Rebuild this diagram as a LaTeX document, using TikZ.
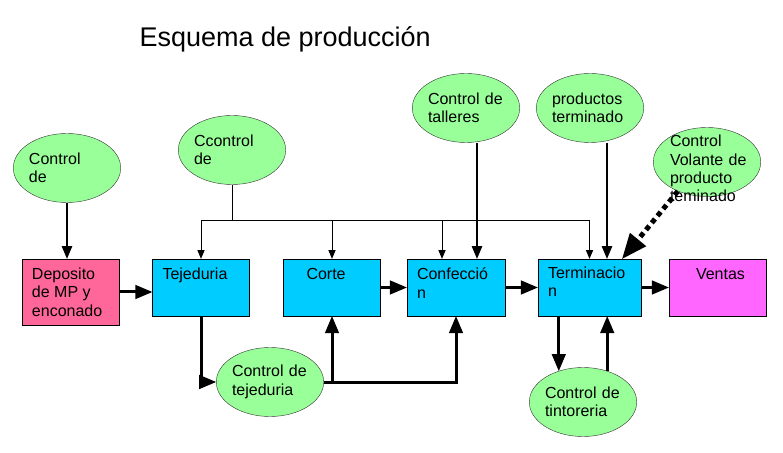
\documentclass[tikz,border=0pt]{standalone}
\usepackage{fontspec}
\setmainfont{Liberation Sans}
\usetikzlibrary{arrows, positioning, shapes.geometric}
\definecolor{verde}{RGB}{153,255,153}
\definecolor{celeste}{RGB}{0,204,255}
\definecolor{rosa}{RGB}{255,102,153}
\definecolor{fucsia}{RGB}{255,102,255}

\begin{document}
\begin{tikzpicture}[x=1bp,y=-1bp,node distance=130bp,on grid,>=triangle 45,
    font=\fontsize{16bp}{18.4bp}\selectfont]
    \tikzstyle{etapa}=[shape=rectangle,draw,fill=celeste,minimum width=97bp,minimum height=57bp,inner sep=0pt]
    \tikzstyle{texto}=[anchor=north west,inner sep=0pt,align=left]
    \tikzstyle{control}=[shape=ellipse,draw=black!80,fill=verde,minimum width=103bp,minimum height=69bp,
        inner sep=0pt,text width=76bp,align=left]
    \tikzstyle{fino}=[->,draw,line width=1bp]
    \tikzstyle{medio}=[->,draw,line width=2bp]
    \tikzstyle{grueso}=[->,draw,line width=3bp]

    \useasboundingbox (0,0) rectangle (783,453);

    \node[anchor=base west,font=\fontsize{27bp}{32bp}\selectfont] (titulo) at (136,47) {Esquema de producción};

    % etapas
    \node[etapa] (teje) at (201,287.5) {};
    \node[etapa, fill=rosa, minimum height=66bp, left=130.5bp of teje, yshift=-4.5bp] (depo) {};
    \node[etapa, right=131bp of teje] (corte) {};
    \node[etapa, minimum width=98bp, right=124bp of corte] (conf) {};
    \node[etapa, minimum width=103bp, right=133.5bp of conf] (term) {};
    \node[etapa, fill=fucsia, right=128bp of term] (ventas) {};

    \node[texto] (tdepo) at ([shift={(10bp,-9bp)}]depo.north west) {Deposito\\de MP y\\enconado};
    \node[texto] (tteje) at ([shift={(10bp,-9bp)}]teje.north west) {Tejeduria};
    \node[texto] (tcorte) at ([shift={(23bp,-9bp)}]corte.north west) {Corte};
    \node[texto] (tconf) at ([shift={(10bp,-9bp)}]conf.north west) {Confecció\\n};
    \node[texto] (tterm) at ([shift={(10bp,-8bp)}]term.north west) {Terminacio\\n};
    \node[texto] (tventas) at ([shift={(27bp,-9bp)}]ventas.north west) {Ventas};

    % controles
    \node[control, above=124bp of depo, xshift=-3.5bp] (cdep) {Control\\de};
    \node[control, above=137.5bp of teje, xshift=31bp] (ctej) {Ccontrol\\de};
    \node[control, above=179.5bp of conf, xshift=10bp] (ctal) {Control de\\talleres};
    \node[control, above=179.5bp of term, xshift=0.5bp] (cprod) {productos\\terminado};
    \node[control, above=125.5bp of ventas, xshift=-10.5bp] (cvol) {};
    \node[align=left, text width=78bp, inner sep=0pt, yshift=-6.5bp, xshift=2bp] (tvol) at (cvol)
        {Control\\Volante de\\producto\\teminado};
    \node[control, below=94.5bp of teje, xshift=69bp] (cteje) {Control de\\tejeduria};
    \node[control, below=114.5bp of term, xshift=-6.5bp] (ctint) {Control de\\tintoreria};

    \coordinate (bus) at (0,221);

    \path[medio] (cdep.south) -- (cdep.south |- depo.north);
    \draw[line width=1bp] (ctej.south) -- (ctej.south |- bus);
    \draw[line width=1bp] (teje.north |- bus) -- (term.north |- bus);
    \path
    (teje.north |- bus) edge[fino] (teje.north)
    (corte.north |- bus) edge[fino] (corte.north)
    ([xshift=-14bp]conf.north |- bus) edge[fino] ([xshift=-14bp]conf.north)
    (term.north |- bus) edge[fino] (term.north);

    \path[medio] ([xshift=11bp]ctal.south) -- ([xshift=11bp]ctal.south |- conf.north);
    \path[medio] ([xshift=17bp]cprod.south) -- ([xshift=17bp]cprod.south |- term.north);
    \path[->,draw,line width=5bp,dash pattern=on 5bp off 4bp] (cvol.225) -- ([xshift=-19bp]term.north east);

    \path
    (depo.east) edge[grueso] (depo.east -| teje.west)
    (corte.east) edge[grueso] (conf.west)
    (conf.east) edge[grueso] (term.west)
    (term.east) edge[grueso] (ventas.west);

    \draw[grueso] (teje.south) |- (cteje.west);
    \draw[grueso] (cteje.east) -| (conf.south);
    \path[grueso] (corte.south |- cteje.east) -- (corte.south);
    \path[grueso] (ctint.128 |- term.south) -- (ctint.128);
    \path[grueso] (ctint.52) -- (ctint.52 |- term.south);

  \end{tikzpicture}
\end{document}
